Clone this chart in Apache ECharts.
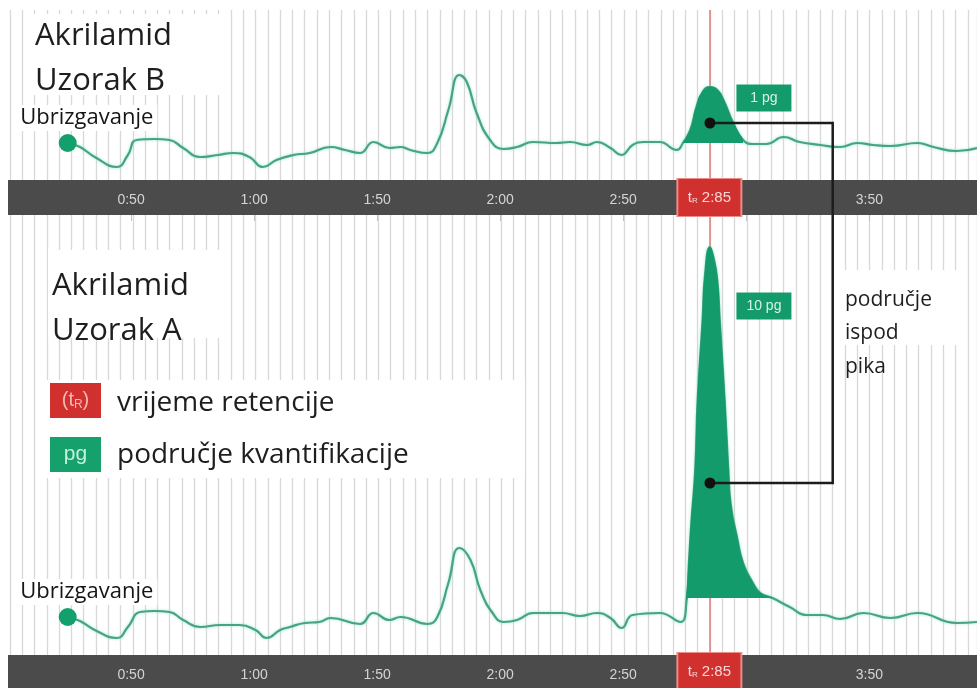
<!DOCTYPE html>
<html>
<head>
<meta charset="utf-8">
<script src="https://cdn.jsdelivr.net/npm/echarts@6/dist/echarts.min.js"></script>
<style>
html, body { margin: 0; padding: 0; background: #fff; }
#chart { width: 977px; height: 688px; }
</style>
</head>
<body>
<div id="chart"></div>
<script>
// vrijeme je u jedinicama velike podjele osi (0:50 = 1, 1:00 = 2, ...)
var tickLabels = ['', '0:50', '1:00', '1:50', '2:00', '2:50', '', '3:50'];
var retentionTime = 5.70;
var retentionLabel = '2:85';

// Uzorak B (gore)
var timeB = [0.47, 0.57, 0.69, 0.87, 0.96, 1.03, 1.18, 1.30, 1.41, 1.55, 1.69, 1.82, 1.95, 2.06, 2.17, 2.31, 2.44, 2.61, 2.73, 2.85,
	2.96, 3.09, 3.18, 3.26, 3.40, 3.48, 3.57, 3.66, 3.72, 3.80, 3.91, 4.02, 4.13, 4.26, 4.45, 4.56, 4.70, 4.78, 4.89, 4.98,
	5.07, 5.16, 5.29, 5.43, 5.48, 5.54, 5.59, 5.64, 5.70, 5.76, 5.81, 5.89, 5.97, 6.05, 6.16, 6.30, 6.43, 6.60, 6.76, 6.90,
	7.03, 7.17, 7.39, 7.52, 7.71, 7.875];
var signalB = [37, 33, 23, 13, 25, 40, 41, 40, 32, 23, 25, 27, 23, 13, 20, 25, 27, 33, 30, 27,
	38, 32, 33, 30, 27, 37, 70, 105, 98, 67, 40, 31, 33, 38, 37, 38, 35, 38, 32, 25,
	35, 38, 38, 30, 37, 50, 73, 88, 93, 90, 80, 57, 40, 36, 36, 43, 38, 35, 33, 37,
	35, 34, 37, 33, 29, 32];

// Uzorak A (dolje)
var timeA = [0.47, 0.57, 0.69, 0.87, 0.96, 1.06, 1.18, 1.30, 1.41, 1.55, 1.71, 1.87, 2.00, 2.09, 2.20, 2.28, 2.40, 2.52, 2.61, 2.85,
	2.96, 3.09, 3.18, 3.40, 3.48, 3.57, 3.66, 3.75, 3.83, 3.93, 4.02, 4.13, 4.26, 4.50, 4.64, 4.78, 4.89, 4.98, 5.07, 5.29,
	5.46, 5.51, 5.53, 5.55, 5.58, 5.60, 5.64, 5.66, 5.70, 5.73, 5.76, 5.78, 5.82, 5.85, 5.87, 5.92, 5.97, 6.05, 6.11, 6.21,
	6.35, 6.49, 6.62, 6.76, 6.95, 7.17, 7.39, 7.71, 7.875];
var signalA = [38, 34, 25, 17, 28, 43, 44, 43, 35, 28, 30, 30, 25, 17, 25, 28, 32, 33, 37, 31,
	42, 35, 38, 31, 38, 72, 107, 95, 65, 42, 33, 35, 42, 42, 39, 42, 37, 27, 40, 42,
	33, 55, 95, 135, 185, 255, 335, 380, 408, 397, 375, 335, 255, 185, 150, 118, 92, 72, 62, 57,
	48, 40, 40, 36, 42, 37, 42, 32, 33];

// područje kvantifikacije: raspon vremena i osnovna linija
var peakRangeB = [5.48, 5.97];
var peakBaseB = 37;
var peakRangeA = [5.51, 6.21];
var peakBaseA = 57;
var massB = '1 pg';
var massA = '10 pg';

// crne točke i zagrada
var areaDotB = 57;
var areaDotA = 172;
var bracketTime = 6.70;

var XMAX = 7.875;
var traceColor = '#48a286';
var fillColor = '#139b6b';
var redColor = '#d0302e';
var textFont = '"Open Sans", "Noto Sans", sans-serif';

function pairs(ts, vs) {
	var out = [];
	for (var i = 0; i < ts.length; i++) {
		out.push([ts[i], vs[i]]);
	}
	return out;
}

function peakPart(ts, vs, range) {
	var out = [];
	for (var i = 0; i < ts.length; i++) {
		if (ts[i] >= range[0] && ts[i] <= range[1]) {
			out.push([ts[i], vs[i]]);
		}
	}
	return out;
}

function peakTop(data) {
	var best = data[0];
	data.forEach(function(d) {
		if (d[1] > best[1]) best = d;
	});
	return best;
}

function plotXAxis(gridIndex) {
	return {
		gridIndex : gridIndex,
		type : 'value',
		min : 0,
		max : XMAX,
		interval : 0.1,
		axisLine : { show : false },
		axisTick : { show : false },
		axisLabel : { show : false },
		splitLine : {
			show : true,
			lineStyle : { color : '#d8d8d8', width : 1.3 }
		}
	};
}

function barXAxis(gridIndex) {
	return {
		gridIndex : gridIndex,
		type : 'value',
		position : 'top',
		min : 0,
		max : XMAX,
		interval : 1,
		axisLine : { show : false },
		axisTick : {
			show : true,
			inside : true,
			length : 6,
			customValues : [1, 2, 3, 4, 5, 6, 7],
			lineStyle : { color : '#c0c0c0', width : 1 }
		},
		axisLabel : {
			show : true,
			inside : true,
			margin : 20,
			verticalAlign : 'middle',
			customValues : [1, 2, 3, 4, 5, 7],
			color : '#d4d4d4',
			fontSize : 14,
			fontFamily : 'Liberation Sans, sans-serif',
			formatter : function(v) {
				return tickLabels[Math.round(v)] || '';
			}
		},
		splitLine : { show : false }
	};
}

function hiddenY(gridIndex, max) {
	return {
		gridIndex : gridIndex,
		type : 'value',
		min : 0,
		max : max,
		show : false,
		splitLine : { show : false }
	};
}

function traceSeries(axis, data) {
	return {
		type : 'line',
		xAxisIndex : axis,
		yAxisIndex : axis,
		data : data,
		smooth : 0.5,
		symbol : 'none',
		z : 3,
		lineStyle : {
			color : traceColor,
			width : 2.2,
			shadowColor : 'rgba(130, 225, 195, 0.8)',
			shadowBlur : 3
		},
		markLine : {
			silent : true,
			symbol : ['none', 'none'],
			z : 1,
			label : { show : false },
			lineStyle : { color : '#e07c78', width : 1.5, type : 'solid' },
			data : [ { xAxis : retentionTime } ]
		}
	};
}

function fillSeries(axis, data, base, mass, offset) {
	var top = peakTop(data);
	return {
		type : 'line',
		xAxisIndex : axis,
		yAxisIndex : axis,
		data : data,
		smooth : 0.5,
		symbol : 'none',
		z : 4,
		lineStyle : { color : fillColor, width : 1 },
		areaStyle : { color : fillColor, opacity : 1, origin : base },
		markPoint : {
			silent : true,
			symbol : 'rect',
			symbolSize : [55, 27],
			symbolOffset : offset,
			itemStyle : { color : fillColor },
			label : {
				show : true,
				position : 'inside',
				color : '#d8f3e6',
				fontSize : 14,
				fontFamily : 'Liberation Sans, sans-serif',
				formatter : mass
			},
			data : [ { coord : top } ]
		}
	};
}

function injectionSeries(axis, ts, vs) {
	return {
		type : 'scatter',
		xAxisIndex : axis,
		yAxisIndex : axis,
		data : [ [ts[0], vs[0]] ],
		symbolSize : 18,
		z : 5,
		itemStyle : { color : '#13a06c', opacity : 1 },
		label : {
			show : true,
			position : 'top',
			distance : 3,
			offset : [19, 0],
			formatter : 'Ubrizgavanje',
			color : '#151515',
			fontSize : 22,
			fontFamily : textFont,
			backgroundColor : '#fff',
			padding : [2, 4, 2, 4]
		}
	};
}

function dotSeries(axis, value) {
	return {
		type : 'scatter',
		xAxisIndex : axis,
		yAxisIndex : axis,
		data : [ [retentionTime, value] ],
		symbolSize : 11,
		z : 12,
		itemStyle : { color : '#111', opacity : 1 }
	};
}

function retentionSeries(axis) {
	return {
		type : 'scatter',
		xAxisIndex : axis,
		yAxisIndex : axis,
		data : [ [retentionTime, 0.5] ],
		symbol : 'rect',
		symbolSize : [64, 38],
		z : 6,
		itemStyle : { color : redColor, opacity : 1, borderColor : '#f08c88', borderWidth : 1.5 },
		label : {
			show : true,
			position : 'inside',
			formatter : '{t|t}{s|R}{v| ' + retentionLabel + '}',
			rich : {
				t : { color : '#f7d8d6', fontSize : 15, fontFamily : 'Liberation Sans, sans-serif' },
				s : { color : '#f7d8d6', fontSize : 8, verticalAlign : 'bottom', padding : [6, 0, 0, 0] },
				v : { color : '#f7d8d6', fontSize : 15, fontFamily : 'Liberation Sans, sans-serif' }
			}
		}
	};
}

var fillB = peakPart(timeB, signalB, peakRangeB);
var fillA = peakPart(timeA, signalA, peakRangeA);

var option = {
	animation : false,
	backgroundColor : '#fff',
	grid : [
		{ left : 10, right : 0, top : 10, height : 170 },
		{ left : 8, right : 0, top : 180, height : 35, show : true, backgroundColor : '#4b4b4b', borderWidth : 0 },
		{ left : 10, right : 0, top : 215, height : 440 },
		{ left : 8, right : 0, top : 655, height : 35, show : true, backgroundColor : '#4b4b4b', borderWidth : 0 }
	],
	xAxis : [ plotXAxis(0), barXAxis(1), plotXAxis(2), barXAxis(3) ],
	yAxis : [ hiddenY(0, 170), hiddenY(1, 1), hiddenY(2, 440), hiddenY(3, 1) ],
	series : [
		traceSeries(0, pairs(timeB, signalB)),
		fillSeries(0, fillB, peakBaseB, massB, [54, 11]),
		injectionSeries(0, timeB, signalB),
		dotSeries(0, areaDotB),
		retentionSeries(1),
		traceSeries(2, pairs(timeA, signalA)),
		fillSeries(2, fillA, peakBaseA, massA, [54, 59]),
		injectionSeries(2, timeA, signalA),
		dotSeries(2, areaDotA),
		retentionSeries(3)
	]
};

var myChart = echarts.init(document.getElementById('chart'));
myChart.setOption(option);

// bijele pozadine tekstova, legenda i zagrada između dva pika
var pTop = myChart.convertToPixel({ gridIndex : 0 }, [retentionTime, areaDotB]);
var pBot = myChart.convertToPixel({ gridIndex : 2 }, [retentionTime, areaDotA]);
var bx = myChart.convertToPixel({ gridIndex : 0 }, [bracketTime, 0])[0];

myChart.setOption({
	graphic : [
		{ type : 'rect', z : 1, shape : { x : 33, y : 14, width : 192, height : 81 }, style : { fill : '#fff' } },
		{ type : 'text', z : 2, x : 35, y : 14, style : { text : 'Akrilamid\nUzorak B', font : '31px ' + textFont, lineHeight : 45, fill : '#1e1e1e', verticalAlign : 'top' } },
		{ type : 'rect', z : 1, shape : { x : 48, y : 250, width : 182, height : 88 }, style : { fill : '#fff' } },
		{ type : 'text', z : 2, x : 52, y : 264, style : { text : 'Akrilamid\nUzorak A', font : '31px ' + textFont, lineHeight : 45, fill : '#1e1e1e', verticalAlign : 'top' } },
		{ type : 'rect', z : 1, shape : { x : 45, y : 380, width : 480, height : 98 }, style : { fill : '#fff' } },
		{ type : 'rect', z : 2, shape : { x : 50, y : 383, width : 51, height : 35 }, style : { fill : redColor } },
		{ type : 'text', z : 3, x : 75.5, y : 400.5, style : { text : '{a|(t}{b|R}{a|)}', rich : { a : { fontSize : 20, fontFamily : 'Liberation Sans, sans-serif', fill : '#f5b8b4' }, b : { fontSize : 12, fontFamily : 'Liberation Sans, sans-serif', fill : '#f5b8b4', padding : [8, 0, 0, 0] } }, align : 'center', verticalAlign : 'middle' } },
		{ type : 'text', z : 2, x : 117, y : 403, style : { text : 'vrijeme retencije', font : '28px ' + textFont, fill : '#1e1e1e', verticalAlign : 'middle' } },
		{ type : 'rect', z : 2, shape : { x : 50, y : 437, width : 51, height : 35 }, style : { fill : '#15a06c' } },
		{ type : 'text', z : 3, x : 75.5, y : 454.5, style : { text : 'pg', font : '21px Liberation Sans, sans-serif', fill : '#c6f1dd', align : 'center', verticalAlign : 'middle' } },
		{ type : 'text', z : 2, x : 117, y : 455, style : { text : 'područje kvantifikacije', font : '28px ' + textFont, fill : '#1e1e1e', verticalAlign : 'middle' } },
		{ type : 'rect', z : 1, shape : { x : 838, y : 270, width : 127, height : 75 }, style : { fill : '#fff' } },
		{ type : 'text', z : 2, x : 845, y : 283, style : { text : 'područje\nispod\npika', font : '21px ' + textFont, lineHeight : 33.5, fill : '#1e1e1e', verticalAlign : 'top' } },
		{
			type : 'polyline',
			z : 11,
			shape : { points : [ pTop, [bx, pTop[1]], [bx, pBot[1]], pBot ] },
			style : { stroke : '#1c1c1c', lineWidth : 2.5, fill : null }
		}
	]
});
</script>
</body>
</html>
